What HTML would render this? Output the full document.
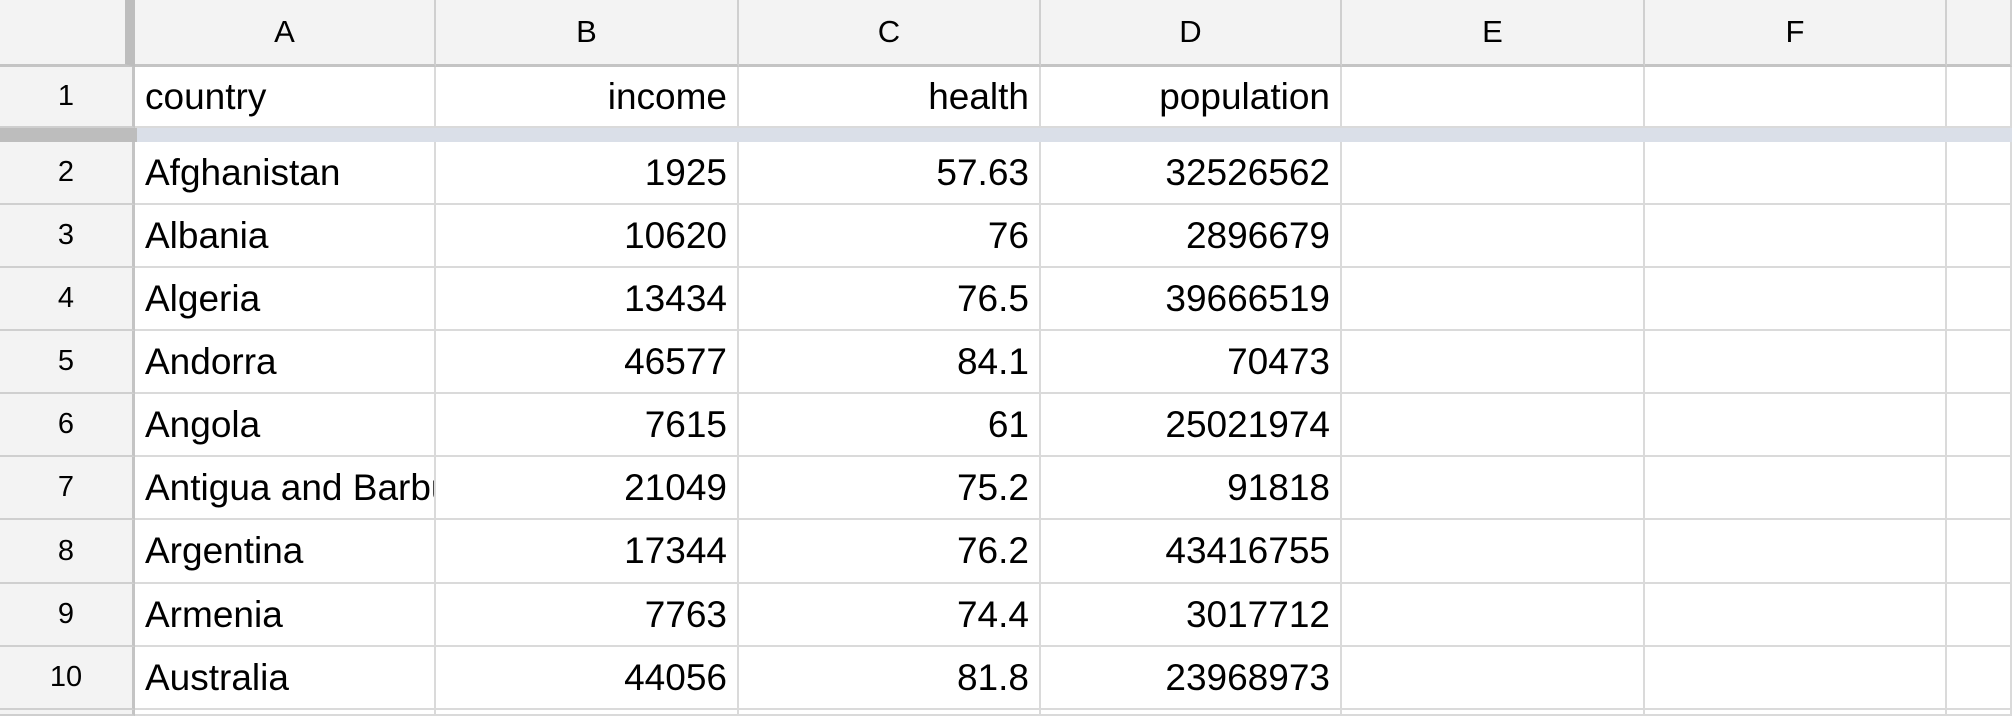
<!DOCTYPE html>
<html><head><meta charset="utf-8"><style>
html,body{margin:0;padding:0;width:2012px;height:716px;overflow:hidden;background:#fff;font-family:"Liberation Sans",Arial,sans-serif;}
#sheet{position:relative;width:2012px;height:716px;overflow:hidden;}
.c{position:absolute;box-sizing:border-box;display:flex;align-items:center;white-space:nowrap;overflow:hidden;color:#000;}
.ch{background:#f3f3f3;justify-content:center;font-size:31px;border-right:2px solid #cfcfcf;border-bottom:3px solid #c4c4c4;}
.rh{background:#f3f3f3;justify-content:center;font-size:29px;border-right:3px solid #c4c4c4;border-bottom:2px solid #cfcfcf;}
.d{font-size:37px;border-right:2px solid #dadada;border-bottom:2px solid #dadada;padding:0 0 0 10px;}
.num{justify-content:flex-end;padding:0 10px 0 0;}
</style></head><body>
<div id="sheet"></div>
<script>
const columnLetters=["A","B","C","D","E","F",""];
const headerRow=["country","income","health","population"];
const countries=["Afghanistan","Albania","Algeria","Andorra","Angola","Antigua and Barbuda","Argentina","Armenia","Australia"];
const income=["1925","10620","13434","46577","7615","21049","17344","7763","44056"];
const health=["57.63","76","76.5","84.1","61","75.2","76.2","74.4","81.8"];
const population=["32526562","2896679","39666519","70473","25021974","91818","43416755","3017712","23968973"];

const sheet=document.getElementById('sheet');
const colX=[135,436,739,1041,1342,1645,1947,2012];
const rowTops=[67,142,205,268,331,394,457,520,584,647,710];
function mk(cls,x,y,w,h,text,name,inter){
  const e=document.createElement('div');
  e.className='c '+cls;
  e.style.left=x+'px';e.style.top=y+'px';e.style.width=w+'px';e.style.height=h+'px';
  e.textContent=text;
  
  
  sheet.appendChild(e);return e;
}
const corner=mk('ch',0,0,135,67,'','select-all-corner','true');
corner.style.borderRight='10px solid #bdbdbd';
for(let i=0;i<7;i++){
  mk('ch',colX[i],0,colX[i+1]-colX[i],67,columnLetters[i],'column-header-'+(i+1),'true');
}
const rowsData=[headerRow];
for(let r=0;r<countries.length;r++)rowsData.push([countries[r],income[r],health[r],population[r]]);
for(let r=0;r<=10;r++){
  let top,h;
  if(r===0){top=67;h=61;}else{top=rowTops[r];h=(rowTops[r+1]||716)-top;}
  const rn=r+1;
  mk('rh',0,top,135,h,r<10?String(rn):'','row-header-'+rn,'true');
  for(let c=0;c<7;c++){
    const vals=rowsData[r]||[];
    const v=vals[c]!==undefined?vals[c]:'';
    const cls='d'+(c>0&&c<4?' num':'');
    mk(cls,colX[c],top,colX[c+1]-colX[c],h,v,'cell-'+(c+1)+'-'+rn,'true');
  }
}
const fz=document.createElement('div');
fz.style.cssText='position:absolute;left:0;top:128px;width:2012px;height:14px;background:#dadfe8;';


sheet.appendChild(fz);
const fz2=document.createElement('div');
fz2.style.cssText='position:absolute;left:0;top:128px;width:137px;height:14px;background:#bdbdbd;';


sheet.appendChild(fz2);
</script>
</body></html>
